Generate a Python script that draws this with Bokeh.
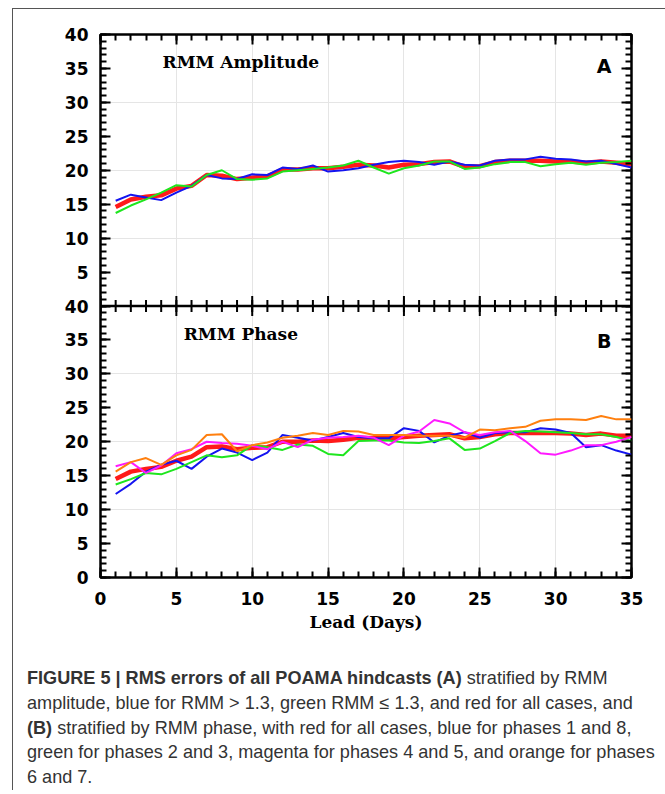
import math
from bokeh.plotting import figure
from bokeh.models import FixedTicker, LinearAxis, Label, Div, Range1d, Span
from bokeh.layouts import column
from bokeh.embed import file_html
from bokeh.resources import INLINE

days = list(range(1, 36))

# Panel A: RMM amplitude
amp_red = [14.6, 15.7, 16.1, 16.3, 17.3, 17.7, 19.3, 19.2, 18.7, 18.9, 19.1, 20.1, 20.1, 20.3, 20.3, 20.5, 20.8, 20.7,
           20.4, 20.8, 20.9, 21.2, 21.3, 20.5, 20.6, 21.2, 21.4, 21.4, 21.4, 21.3, 21.3, 21.1, 21.3, 21.1, 20.9]
amp_blue = [15.5, 16.4, 16.0, 15.6, 16.7, 17.7, 19.3, 18.8, 18.7, 19.4, 19.3, 20.4, 20.2, 20.7, 19.8, 20.0, 20.3, 20.8,
            21.2, 21.4, 21.2, 20.8, 21.3, 20.8, 20.7, 21.4, 21.6, 21.6, 22.0, 21.7, 21.6, 21.3, 21.4, 20.9, 20.4]
amp_green = [13.7, 14.8, 15.7, 16.7, 17.8, 17.6, 19.3, 20.0, 18.7, 18.6, 18.8, 19.8, 20.0, 20.2, 20.4, 20.7, 21.4, 20.4,
             19.5, 20.3, 20.7, 21.3, 21.3, 20.2, 20.4, 20.9, 21.2, 21.2, 20.6, 20.9, 21.1, 20.8, 21.1, 21.2, 21.4]

# Panel B: RMM phase
ph_red = [14.5, 15.6, 16.0, 16.3, 17.2, 17.8, 19.2, 19.3, 18.9, 19.1, 19.2, 20.0, 20.0, 20.2, 20.1, 20.3, 20.6, 20.5,
          20.5, 20.7, 20.9, 21.0, 21.1, 20.5, 20.7, 21.1, 21.3, 21.3, 21.3, 21.3, 21.2, 21.0, 21.2, 20.9, 20.9]
ph_blue = [12.3, 13.8, 15.6, 16.6, 17.2, 16.0, 17.8, 19.0, 18.4, 17.3, 18.4, 21.0, 20.6, 20.2, 20.7, 21.3, 20.7, 20.5,
           20.5, 22.0, 21.6, 19.9, 20.9, 21.4, 20.6, 21.3, 21.4, 21.4, 22.0, 21.8, 21.3, 19.2, 19.5, 18.7, 18.1]
ph_green = [13.7, 14.5, 15.4, 15.2, 16.0, 17.0, 18.0, 17.7, 18.0, 19.5, 19.2, 18.8, 19.6, 19.4, 18.2, 18.0, 20.1, 20.2,
            20.2, 19.9, 19.8, 20.1, 20.5, 18.8, 19.0, 20.1, 21.3, 21.6, 21.5, 21.4, 21.3, 21.1, 21.1, 20.7, 20.1]
ph_magenta = [16.4, 17.0, 15.4, 16.5, 18.3, 18.9, 20.0, 19.8, 19.7, 19.4, 18.9, 20.0, 19.2, 20.3, 20.6, 20.7, 20.9, 20.6,
              19.5, 20.9, 21.5, 23.2, 22.7, 21.4, 21.0, 21.4, 21.6, 20.1, 18.3, 18.1, 18.7, 19.5, 19.5, 20.0, 20.7]
ph_orange = [15.6, 17.0, 17.6, 16.6, 18.0, 18.8, 21.0, 21.1, 18.6, 19.5, 19.9, 20.6, 20.9, 21.3, 21.0, 21.6, 21.5, 21.0,
             21.0, 21.0, 20.9, 20.9, 20.9, 20.6, 21.8, 21.7, 22.0, 22.2, 23.1, 23.3, 23.3, 23.2, 23.8, 23.3, 23.3]

x_major = [0, 5, 10, 15, 20, 25, 30, 35]
x_minor = list(range(0, 36))
# one panel's y ticks (0..40 Wm-2); both panels share the same ticks
y_major = [0, 5, 10, 15, 20, 25, 30, 35, 40]
y_minor = list(range(0, 41))
PANEL_TOP = 40  # each panel spans 0..40 Wm-2

RED, BLUE, GREEN, MAGENTA, ORANGE = "#ff1a1a", "#1414f0", "#1ee61e", "#ff1aff", "#ff7f0e"

# Panel B uses the main y range (0..40 in the lower half); panel A uses the
# "amp" range, whose 0..40 falls in the upper half of the same frame.
p = figure(frame_width=531, frame_height=543,
           x_range=Range1d(0, 35), y_range=Range1d(0, 2 * PANEL_TOP),
           x_axis_location=None, y_axis_location=None, toolbar_location=None, output_backend="svg",
           min_border_left=87, min_border_right=34, min_border_top=25, min_border_bottom=10)
p.extra_y_ranges = {"amp": Range1d(-PANEL_TOP, PANEL_TOP)}
p.outline_line_color = "black"
p.outline_line_width = 2.5
p.background_fill_color = "white"
p.border_fill_color = "white"

# ticks on the shared (main) y range: panel B ticks then panel A ticks
yt_major = y_major + [v + PANEL_TOP for v in y_major[1:]]
yt_minor = y_minor + [v + PANEL_TOP for v in y_minor[1:]]
y_labels = {v + PANEL_TOP: str(v) for v in y_major[1:]}


def style_ticks(ax):
    ax.major_tick_in = 10
    ax.major_tick_out = 0
    ax.minor_tick_in = 6
    ax.minor_tick_out = 0
    ax.major_tick_line_width = 2
    ax.minor_tick_line_width = 2
    ax.major_tick_line_color = "black"
    ax.minor_tick_line_color = "black"
    ax.axis_line_color = None


def label_style(ax, standoff):
    ax.major_label_text_font = "DejaVu Sans"
    ax.major_label_text_font_style = "bold"
    ax.major_label_text_font_size = "17px"
    ax.major_label_text_color = "black"
    ax.major_label_standoff = standoff


def no_labels(ax):
    ax.major_label_text_color = None
    ax.major_label_text_font_size = "1px"
    ax.major_label_standoff = 0


left = LinearAxis(ticker=FixedTicker(ticks=yt_major, minor_ticks=yt_minor), major_label_overrides=y_labels)
style_ticks(left)
label_style(left, 12)
p.add_layout(left, "left")

right = LinearAxis(ticker=FixedTicker(ticks=yt_major, minor_ticks=yt_minor))
style_ticks(right)
no_labels(right)
p.add_layout(right, "right")

top = LinearAxis(ticker=FixedTicker(ticks=x_major, minor_ticks=x_minor))
style_ticks(top)
no_labels(top)
p.add_layout(top, "above")

bottom = LinearAxis(ticker=FixedTicker(ticks=x_major, minor_ticks=x_minor), axis_label="Lead (Days)")
style_ticks(bottom)
label_style(bottom, 14)
bottom.axis_label_text_font = "DejaVu Serif"
bottom.axis_label_text_font_style = "bold"
bottom.axis_label_text_font_size = "17px"
bottom.axis_label_text_color = "black"
bottom.axis_label_standoff = 4
p.add_layout(bottom, "below")

# boundary between the two panels, with ticks crossing it
p.add_layout(Span(location=PANEL_TOP, dimension="width", line_color="black", line_width=2.5))
p.scatter(x_minor, [PANEL_TOP] * len(x_minor), marker="dash", size=12, angle=math.pi / 2,
          line_color="black", line_width=2)
p.scatter(x_major, [PANEL_TOP] * len(x_major), marker="dash", size=20, angle=math.pi / 2,
          line_color="black", line_width=2)

# ---- Panel A ----
p.line(days, amp_red, line_color=RED, line_width=4.5, y_range_name="amp")
p.line(days, amp_blue, line_color=BLUE, line_width=2, y_range_name="amp")
p.line(days, amp_green, line_color=GREEN, line_width=2, y_range_name="amp")

# ---- Panel B ----
p.line(days, ph_red, line_color=RED, line_width=4.5)
p.line(days, ph_blue, line_color=BLUE, line_width=2)
p.line(days, ph_green, line_color=GREEN, line_width=2)
p.line(days, ph_magenta, line_color=MAGENTA, line_width=2)
p.line(days, ph_orange, line_color=ORANGE, line_width=2)

title_kw = dict(text_align="center", text_baseline="middle", text_font="DejaVu Serif",
                text_font_style="bold", text_font_size="17px", text_color="black")
letter_kw = dict(text_align="center", text_baseline="middle", text_font="DejaVu Sans",
                 text_font_style="bold", text_font_size="19px", text_color="black")
ylab_kw = dict(text_align="center", text_baseline="middle", text_font="DejaVu Serif",
               text_font_style="bold", text_font_size="17px", text_color="black", angle=math.pi / 2)

p.add_layout(Label(x=9.25, y=35.9, text="RMM Amplitude", y_range_name="amp", **title_kw))
p.add_layout(Label(x=33.2, y=35.4, text="A", y_range_name="amp", **letter_kw))
p.add_layout(Label(x=-3.75, y=21.5, text="Wm⁻²", y_range_name="amp", **ylab_kw))

p.add_layout(Label(x=9.25, y=35.9, text="RMM Phase", **title_kw))
p.add_layout(Label(x=33.2, y=34.9, text="B", **letter_kw))
p.add_layout(Label(x=-3.75, y=20.0, text="Wm⁻²", **ylab_kw))

caption_html = (
    "<b>FIGURE 5 | RMS errors of all POAMA hindcasts (A)</b> stratified by RMM<br>"
    "amplitude, blue for RMM &gt; 1.3, green RMM ≤ 1.3, and red for all cases, and<br>"
    "<b>(B)</b> stratified by RMM phase, with red for all cases, blue for phases 1 and 8,<br>"
    "green for phases 2 and 3, magenta for phases 4 and 5, and orange for phases<br>"
    "6 and 7."
)
caption = Div(text=caption_html, width=652, margin=(0, 0, 0, 0),
              styles={"font-family": "'Liberation Sans', Arial, sans-serif", "font-size": "18.1px",
                      "line-height": "24.8px", "color": "#333333", "padding-left": "14px",
                      "padding-top": "32px", "white-space": "nowrap"})

layout = column(p, caption, margin=(8, 0, 0, 12), spacing=0,
                styles={"border-top": "1.5px solid #555", "border-left": "1.5px solid #555",
                        "background-color": "white"})

open("out.html", "w").write(file_html(layout, INLINE))
